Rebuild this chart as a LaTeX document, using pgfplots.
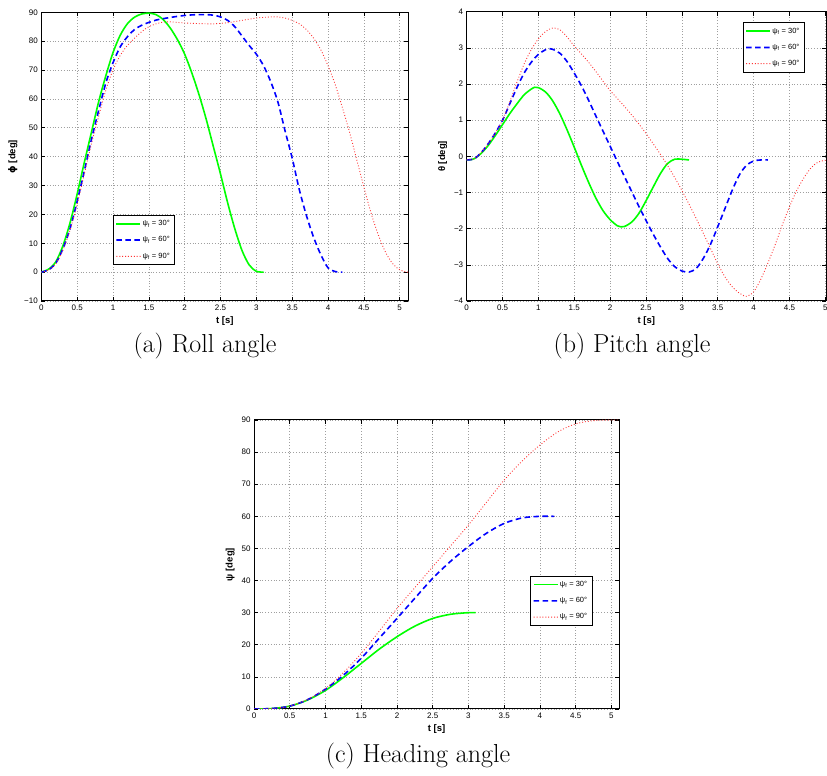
\documentclass[border=0pt]{standalone}
\usepackage{fontspec}
\setsansfont{Liberation Sans}
\newfontfamily\dejavu{DejaVu Sans}
\usepackage{pgfplots}
\pgfplotsset{compat=1.18}
\pgfplotsset{
 myax/.style={
  scale only axis,
  anchor=south west,
  axis line style={line width=1pt, black},
  tick align=inside,
  major tick length=4pt,
  tick style={black, line width=0.6pt},
  grid=major,
  major grid style={gray!75, dash pattern=on 0.8pt off 2pt, line width=0.6pt},
  tick label style={font=\fontsize{8}{9}\selectfont\sffamily},
  label style={font=\fontsize{9.5}{11}\selectfont\sffamily\bfseries},
  xtick={0,0.5,1,1.5,2,2.5,3,3.5,4,4.5,5},
  xticklabels={0,0.5,1,1.5,2,2.5,3,3.5,4,4.5,5},
  xmin=0,
  xlabel={t [s]},
  legend cell align=left,
  legend style={draw=black, line width=1pt, font=\fontsize{7.5}{8}\selectfont\sffamily, inner xsep=3pt, inner ysep=3pt, row sep=5.5pt},
 },
 gs/.style={color=green, line width=1.6pt, solid},
 bs/.style={color=blue, line width=1.6pt, dash pattern=on 5.5pt off 3.5pt},
 rs/.style={color=red!80, line width=0.9pt, dash pattern=on 0.9pt off 2pt},
}
\newcommand{\mylegend}{%
\addlegendimage{legend image code/.code={\path[fill=green, draw=none] (0pt,-0.85pt) rectangle (24pt,0.85pt);}}
\addlegendentry{ψ\textsubscript{f} = 30°}
\addlegendimage{legend image code/.code={\path[fill=blue, draw=none] (0pt,-0.85pt) rectangle (5.5pt,0.85pt) (9pt,-0.85pt) rectangle (14.5pt,0.85pt) (18pt,-0.85pt) rectangle (23.5pt,0.85pt);}}
\addlegendentry{ψ\textsubscript{f} = 60°}
\addlegendimage{legend image code/.code={\path[fill=red!80, draw=none] (0pt,-0.5pt) rectangle (1pt,0.5pt) (2.9pt,-0.5pt) rectangle (3.9pt,0.5pt) (5.8pt,-0.5pt) rectangle (6.8pt,0.5pt) (8.7pt,-0.5pt) rectangle (9.7pt,0.5pt) (11.6pt,-0.5pt) rectangle (12.6pt,0.5pt) (14.5pt,-0.5pt) rectangle (15.5pt,0.5pt) (17.4pt,-0.5pt) rectangle (18.4pt,0.5pt) (20.3pt,-0.5pt) rectangle (21.3pt,0.5pt) (23.2pt,-0.5pt) rectangle (24.2pt,0.5pt);}}
\addlegendentry{ψ\textsubscript{f} = 90°}}
\begin{document}
\begin{tikzpicture}
\useasboundingbox (0pt,0pt) rectangle (827pt,776pt);
% (a) Roll
\begin{axis}[myax, at={(41.3pt,475pt)}, width=367pt, height=288.7pt,
  xmax=5.12, ymin=-10, ymax=90,
  ytick={-10,0,10,20,30,40,50,60,70,80,90},
  yticklabels={−10,0,10,20,30,40,50,60,70,80,90},
  ylabel={{\dejavu ϕ} [deg]},
  legend style={at={(0.195,0.298)}, anchor=north west}]
\addplot[gs, smooth, mark=none, forget plot] coordinates {(0,0) (0.1,1) (0.2,3.5) (0.3,9) (0.4,17) (0.5,27) (0.6,38) (0.7,48.5) (0.8,59) (0.9,68) (1.0,76) (1.1,82) (1.2,86) (1.3,88.3) (1.4,89.4) (1.5,89.7) (1.6,89.2) (1.7,87.5) (1.8,84.5) (1.9,80.5) (2.0,75.5) (2.1,69) (2.2,61.5) (2.3,53) (2.4,43.5) (2.5,34) (2.6,24) (2.7,15) (2.8,7.5) (2.9,2.5) (3.0,0.3) (3.1,0)};
\addplot[bs, smooth, mark=none, forget plot] coordinates {(0,0) (0.1,0.8) (0.2,3) (0.3,8) (0.4,15) (0.5,24.5) (0.6,35) (0.7,46) (0.8,56) (0.9,65.5) (1.0,72.5) (1.1,78) (1.2,81.5) (1.3,84) (1.4,85.5) (1.5,86.5) (1.6,87.3) (1.7,87.8) (1.8,88.2) (1.9,88.6) (2.0,88.9) (2.1,89.1) (2.2,89.2) (2.3,89.2) (2.4,89) (2.5,88.4) (2.6,87.2) (2.7,85) (2.8,81.8) (2.9,78.5) (3.0,75.5) (3.1,71.5) (3.2,66) (3.3,59) (3.4,49) (3.5,39.5) (3.6,28.5) (3.7,19.5) (3.8,12) (3.9,6) (4.0,1.5) (4.1,0.2) (4.2,0)};
\addplot[rs, smooth, mark=none, forget plot] coordinates {(0,0) (0.1,0.7) (0.2,2.8) (0.3,7.5) (0.4,14.5) (0.5,23.5) (0.6,34) (0.7,44.5) (0.8,54) (0.9,63) (1.0,70) (1.1,75) (1.2,78.5) (1.3,81) (1.4,83.3) (1.5,85) (1.6,86) (1.7,86.6) (1.8,86.7) (1.9,86.5) (2.0,86.3) (2.2,86.1) (2.4,86) (2.6,86.4) (2.8,87.2) (3.0,88) (3.2,88.4) (3.3,88.4) (3.4,88) (3.5,87.2) (3.6,86) (3.7,84) (3.8,81) (3.9,77) (4.0,71.5) (4.1,65) (4.2,57) (4.3,48.5) (4.4,39) (4.5,29.5) (4.6,20.5) (4.7,13) (4.8,7) (4.9,3) (5.0,0.8) (5.1,0) (5.12,0)};
\mylegend
\end{axis}
% (b) Pitch
\begin{axis}[myax, at={(466.7pt,475pt)}, width=359.3pt, height=289.3pt,
  xmax=5.01, ymin=-4, ymax=4,
  ytick={-4,-3,-2,-1,0,1,2,3,4},
  yticklabels={−4,−3,−2,−1,0,1,2,3,4},
  ylabel={θ [deg]},
  legend style={at={(0.9415,0.963)}, anchor=north east}]
\addplot[gs, smooth, mark=none, forget plot] coordinates {(0,-0.1) (0.1,-0.07) (0.2,0.08) (0.3,0.3) (0.4,0.58) (0.5,0.88) (0.6,1.18) (0.7,1.45) (0.8,1.7) (0.9,1.86) (0.95,1.91) (1.0,1.9) (1.1,1.78) (1.2,1.53) (1.3,1.17) (1.4,0.73) (1.5,0.25) (1.6,-0.25) (1.7,-0.72) (1.8,-1.15) (1.9,-1.5) (2.0,-1.75) (2.1,-1.92) (2.15,-1.95) (2.2,-1.94) (2.3,-1.82) (2.4,-1.58) (2.5,-1.23) (2.6,-0.85) (2.7,-0.48) (2.8,-0.2) (2.9,-0.08) (3.0,-0.08) (3.1,-0.1)};
\addplot[bs, smooth, mark=none, forget plot] coordinates {(0,-0.1) (0.1,-0.07) (0.2,0.1) (0.3,0.35) (0.4,0.65) (0.5,1.0) (0.6,1.45) (0.7,1.9) (0.8,2.3) (0.9,2.6) (1.0,2.82) (1.1,2.95) (1.15,2.98) (1.2,2.96) (1.3,2.85) (1.4,2.62) (1.5,2.3) (1.6,1.95) (1.7,1.55) (1.8,1.12) (1.9,0.7) (2.0,0.28) (2.1,-0.14) (2.2,-0.56) (2.3,-0.97) (2.4,-1.38) (2.5,-1.77) (2.6,-2.15) (2.7,-2.5) (2.8,-2.82) (2.9,-3.05) (3.0,-3.17) (3.1,-3.2) (3.2,-3.1) (3.3,-2.82) (3.4,-2.43) (3.5,-1.95) (3.6,-1.45) (3.7,-0.95) (3.8,-0.52) (3.9,-0.25) (4.0,-0.13) (4.1,-0.1) (4.2,-0.1)};
\addplot[rs, smooth, mark=none, forget plot] coordinates {(0,-0.1) (0.1,-0.07) (0.2,0.1) (0.3,0.35) (0.4,0.65) (0.5,1.0) (0.6,1.5) (0.7,2.05) (0.8,2.55) (0.9,2.95) (1.0,3.25) (1.1,3.45) (1.2,3.55) (1.3,3.5) (1.4,3.3) (1.5,3.05) (1.6,2.83) (1.7,2.6) (1.8,2.35) (1.9,2.08) (2.0,1.82) (2.2,1.38) (2.4,0.9) (2.6,0.35) (2.8,-0.25) (3.0,-0.94) (3.2,-1.72) (3.4,-2.55) (3.5,-2.97) (3.6,-3.33) (3.7,-3.6) (3.8,-3.78) (3.9,-3.87) (4.0,-3.75) (4.1,-3.4) (4.2,-2.95) (4.3,-2.45) (4.4,-1.9) (4.5,-1.4) (4.6,-0.95) (4.7,-0.6) (4.8,-0.32) (4.9,-0.16) (5.0,-0.11) (5.1,-0.1)};
\mylegend
\end{axis}
% (c) Heading
\begin{axis}[myax, at={(254pt,67pt)}, width=365.3pt, height=289pt,
  xmax=5.11, ymin=0, ymax=90,
  ytick={0,10,20,30,40,50,60,70,80,90},
  yticklabels={0,10,20,30,40,50,60,70,80,90},
  ylabel={ψ [deg]},
  legend style={at={(0.927,0.461)}, anchor=north east}]
\addplot[gs, smooth, mark=none, forget plot] coordinates {(0,0) (0.25,0.15) (0.5,0.9) (0.75,2.8) (1.0,5.8) (1.25,9.8) (1.5,14.2) (1.75,18.6) (2.0,22.5) (2.25,25.8) (2.5,28.2) (2.75,29.5) (3.0,30) (3.1,30)};
\addplot[bs, smooth, mark=none, forget plot] coordinates {(0,0) (0.25,0.15) (0.5,0.9) (0.75,2.9) (1.0,6.2) (1.25,10.5) (1.5,15.8) (1.75,22) (2.0,28.2) (2.25,34.5) (2.5,40.7) (2.75,46) (3.0,50.6) (3.25,54.7) (3.5,57.8) (3.75,59.5) (4.0,60) (4.2,60)};
\addplot[rs, smooth, mark=none, forget plot] coordinates {(0,0) (0.25,0.15) (0.5,0.9) (0.75,3) (1.0,6.4) (1.25,11.3) (1.5,17.3) (1.75,24.2) (2.0,31.3) (2.25,37.8) (2.5,44.3) (2.75,50.8) (3.0,57.3) (3.25,64.3) (3.5,71.3) (3.75,77.2) (4.0,82.2) (4.25,86.3) (4.5,88.8) (4.75,89.8) (5.0,90) (5.12,90)};
\mylegend
\end{axis}
\node[anchor=base, font=\fontsize{26}{30}\selectfont] at (205pt,423pt) {(a) Roll angle};
\node[anchor=base, font=\fontsize{26}{30}\selectfont] at (632pt,423pt) {(b) Pitch angle};
\node[anchor=base, font=\fontsize{26}{30}\selectfont] at (418pt,13pt) {(c) Heading angle};
\end{tikzpicture}
\end{document}
